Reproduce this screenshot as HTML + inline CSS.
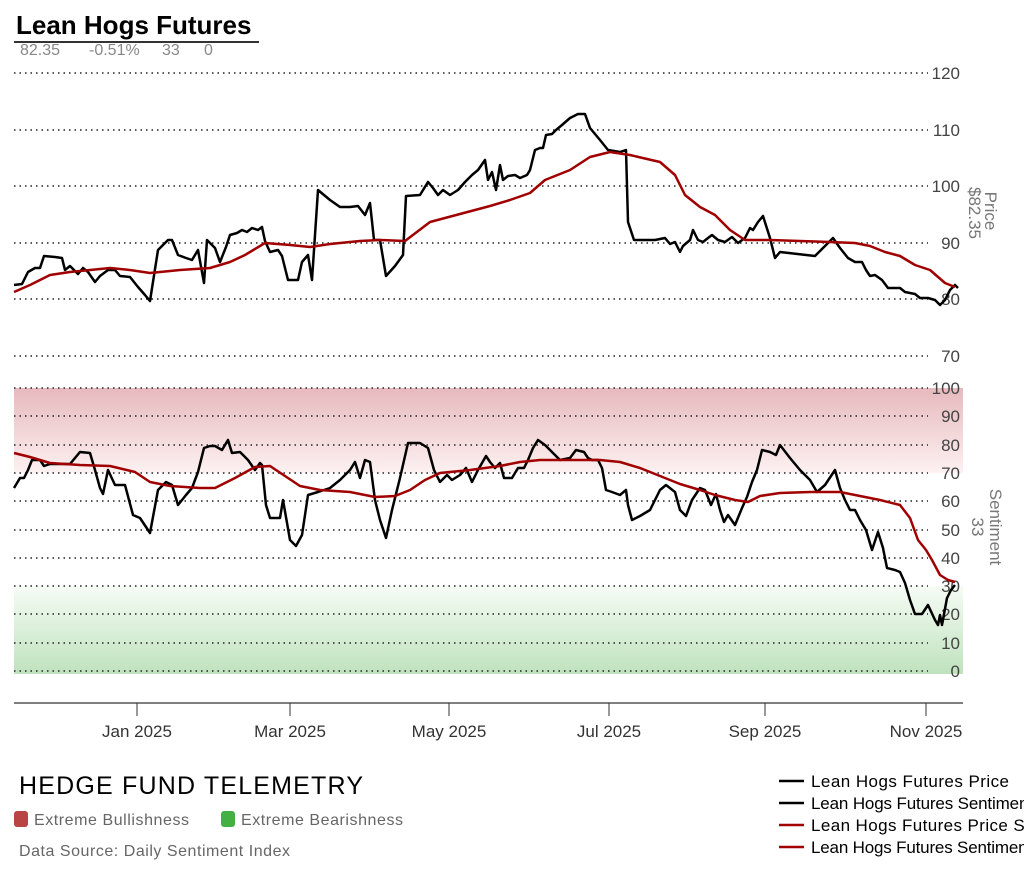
<!DOCTYPE html>
<html><head><meta charset="utf-8"><style>
html,body{margin:0;padding:0;background:#fff;}
svg{display:block;font-family:"Liberation Sans",sans-serif;}
</style></head><body>
<svg width="1024" height="878" viewBox="0 0 1024 878" xmlns="http://www.w3.org/2000/svg">
<defs>
<linearGradient id="rg" x1="0" y1="0" x2="0" y2="1"><stop offset="0" stop-color="#e6b9bd"/><stop offset="1" stop-color="#fdf1f1"/></linearGradient>
<linearGradient id="gg" x1="0" y1="0" x2="0" y2="1"><stop offset="0" stop-color="#f6fcf5"/><stop offset="1" stop-color="#bfe2bd"/></linearGradient>
</defs>
<text x="16" y="34" font-size="26" font-weight="bold" fill="#000">Lean Hogs Futures</text>
<line x1="14" y1="42" x2="259" y2="42" stroke="#333" stroke-width="2"/>
<text x="20" y="55" font-size="16" fill="#888">82.35</text>
<text x="89" y="55" font-size="16" fill="#888">-0.51%</text>
<text x="162" y="55" font-size="16" fill="#888">33</text>
<text x="204" y="55" font-size="16" fill="#888">0</text>
<rect x="14" y="388" width="949" height="85" fill="url(#rg)"/>
<rect x="14" y="586" width="949" height="88" fill="url(#gg)"/>
<g stroke="#222" stroke-width="1.5" stroke-dasharray="1.5,4">
<line x1="14" y1="73" x2="928" y2="73"/><line x1="14" y1="130" x2="928" y2="130"/><line x1="14" y1="186" x2="928" y2="186"/><line x1="14" y1="243" x2="928" y2="243"/><line x1="14" y1="299" x2="928" y2="299"/><line x1="14" y1="356" x2="928" y2="356"/>
<line x1="14" y1="388" x2="928" y2="388"/><line x1="14" y1="416" x2="928" y2="416"/><line x1="14" y1="445" x2="928" y2="445"/><line x1="14" y1="473" x2="928" y2="473"/><line x1="14" y1="501" x2="928" y2="501"/><line x1="14" y1="530" x2="928" y2="530"/><line x1="14" y1="558" x2="928" y2="558"/><line x1="14" y1="586" x2="928" y2="586"/><line x1="14" y1="614" x2="928" y2="614"/><line x1="14" y1="643" x2="928" y2="643"/><line x1="14" y1="671" x2="928" y2="671"/>
</g>
<g font-size="17" fill="#444" text-anchor="end">
<text x="960" y="79">120</text><text x="960" y="136">110</text><text x="960" y="192">100</text><text x="960" y="249">90</text><text x="960" y="305">80</text><text x="960" y="362">70</text>
<text x="960" y="394">100</text><text x="960" y="422">90</text><text x="960" y="451">80</text><text x="960" y="479">70</text><text x="960" y="507">60</text><text x="960" y="536">50</text><text x="960" y="564">40</text><text x="960" y="592">30</text><text x="960" y="620">20</text><text x="960" y="649">10</text><text x="960" y="677">0</text>
</g>
<text transform="translate(985,211) rotate(90)" font-size="17" fill="#777" text-anchor="middle">Price</text>
<text transform="translate(969,213) rotate(90)" font-size="17" fill="#777" text-anchor="middle">$82.35</text>
<text transform="translate(990,527) rotate(90)" font-size="17" fill="#777" text-anchor="middle">Sentiment</text>
<text transform="translate(972,527) rotate(90)" font-size="17" fill="#777" text-anchor="middle">33</text>
<g fill="none" stroke-width="2.5" stroke-linejoin="round">
<polyline stroke="#000" points="14,285 22,284 28,272 35,268 40,268 44,256 55,257 62,258 65,270 70,266 78,274 83,268 88,272 95,282 100,276 108,270 115,270 120,276 130,277 138,287 145,295 150,301 158,250 168,240 172,240 178,255 186,258 192,260 198,250 204,283 207,240 215,248 220,262 226,247 230,235 237,233 242,230 247,232 252,228 258,230 262,227 265,241 270,252 278,250 282,256 288,280 298,280 302,262 308,255 312,280 318,190 330,200 340,207 350,207 358,206 365,215 370,203 374,240 380,240 386,276 395,266 403,255 406,196 420,195 428,182 433,188 438,195 443,190 450,195 458,190 465,182 472,175 478,170 485,160 488,180 492,172 496,190 500,165 503,180 508,176 515,175 520,178 527,175 530,170 535,150 540,148 543,148 546,135 552,134 556,130 562,125 570,118 578,114 585,114 590,128 600,140 608,150 620,152 626,150 628,222 634,240 645,240 655,240 665,238 670,244 675,242 680,252 683,246 690,240 693,230 698,240 703,242 708,238 712,235 718,240 725,242 732,237 738,243 745,238 750,228 753,230 758,222 763,216 770,238 775,258 780,252 815,256 833,238 840,248 848,258 855,262 862,262 866,270 870,276 875,275 882,280 888,288 900,288 905,292 915,294 920,298 928,298 935,300 940,305 945,300 950,290 955,285 958,288"/>
<polyline stroke="#a00000" points="14,292 30,285 50,275 70,272 90,270 110,268 130,270 150,273 180,270 210,268 230,262 245,255 265,243 290,245 310,247 330,244 360,241 380,240 405,241 430,222 460,214 490,206 510,200 530,193 545,180 570,170 590,157 610,152 630,155 660,162 675,175 685,195 700,207 715,215 730,230 745,240 770,240 800,241 830,242 855,243 870,246 885,252 900,256 915,265 930,270 945,283 955,287"/>
<polyline stroke="#000" points="14,488 20,478 24,478 28,470 32,460 40,460 44,466 50,464 70,464 80,452 90,453 95,470 100,488 103,494 108,470 115,485 125,485 133,515 140,518 150,533 158,490 166,482 172,485 178,505 186,495 192,488 198,472 204,448 210,446 215,446 222,450 228,440 232,453 240,452 248,460 255,470 260,463 262,465 266,505 270,518 280,518 283,500 290,540 296,546 302,535 308,495 318,492 330,488 340,480 350,470 355,462 360,478 365,460 370,462 375,500 380,520 386,538 392,510 400,478 408,443 420,443 428,448 434,470 440,482 447,475 452,480 460,475 466,468 472,482 478,470 486,456 490,462 495,468 500,463 504,478 512,478 518,468 524,468 528,460 533,448 538,440 545,445 550,450 556,456 560,460 570,458 576,450 584,452 588,458 592,460 598,460 602,468 606,490 612,492 620,495 626,490 628,505 632,520 640,516 650,510 655,500 660,490 666,485 675,492 680,510 686,516 692,500 700,488 705,490 711,505 716,494 720,510 724,522 728,515 735,525 742,508 747,497 752,482 757,470 762,450 770,452 776,455 780,445 790,458 800,470 810,480 817,492 825,485 835,470 840,488 845,500 850,510 855,510 860,520 866,530 872,550 878,532 883,548 887,568 895,570 900,572 905,583 910,600 915,614 922,614 928,605 935,620 938,625 940,615 942,625 947,598 951,590 955,585"/>
<polyline stroke="#a00000" points="14,453 30,457 50,463 80,465 110,466 135,472 150,482 170,486 200,488 215,488 235,478 255,467 270,466 285,476 300,486 320,490 350,492 375,497 395,496 410,490 425,480 440,473 470,470 500,466 520,462 540,460 580,460 600,460 620,462 640,468 660,476 680,484 700,490 715,495 735,500 748,502 760,496 780,493 810,492 840,492 860,496 880,500 900,505 910,518 918,540 926,550 932,560 940,575 948,580 955,582"/>
</g>
<line x1="14" y1="703" x2="963" y2="703" stroke="#555" stroke-width="1.5"/>
<g stroke="#333" stroke-width="1"><line x1="137" y1="703" x2="137" y2="716"/><line x1="290" y1="703" x2="290" y2="716"/><line x1="449" y1="703" x2="449" y2="716"/><line x1="609" y1="703" x2="609" y2="716"/><line x1="765" y1="703" x2="765" y2="716"/><line x1="926" y1="703" x2="926" y2="716"/></g>
<g font-size="17" fill="#333" text-anchor="middle">
<text x="137" y="737">Jan 2025</text><text x="290" y="737">Mar 2025</text><text x="449" y="737">May 2025</text><text x="609" y="737">Jul 2025</text><text x="765" y="737">Sep 2025</text><text x="926" y="737">Nov 2025</text>
</g>
<text x="19" y="794" font-size="25" fill="#000" textLength="344">HEDGE FUND TELEMETRY</text>
<rect x="14" y="811" width="14" height="16" rx="3" fill="#b84444"/>
<text x="34" y="825" font-size="16" fill="#666" textLength="155">Extreme Bullishness</text>
<rect x="221" y="811" width="14" height="16" rx="3" fill="#44b044"/>
<text x="241" y="825" font-size="16" fill="#666" textLength="162">Extreme Bearishness</text>
<text x="19" y="856" font-size="16" fill="#666" textLength="271">Data Source: Daily Sentiment Index</text>
<g stroke-width="2.5"><line x1="779" y1="781" x2="804" y2="781" stroke="#000"/><line x1="779" y1="803" x2="804" y2="803" stroke="#000"/><line x1="779" y1="825" x2="804" y2="825" stroke="#a00000"/><line x1="779" y1="847" x2="804" y2="847" stroke="#a00000"/></g>
<g font-size="17" fill="#000">
<text x="811" y="787" textLength="198">Lean Hogs Futures Price</text>
<text x="811" y="809" textLength="222">Lean Hogs Futures Sentiment</text>
<text x="811" y="831" textLength="240">Lean Hogs Futures Price SMA</text>
<text x="811" y="853" textLength="262">Lean Hogs Futures Sentiment SMA</text>
</g>
</svg>
</body></html>
